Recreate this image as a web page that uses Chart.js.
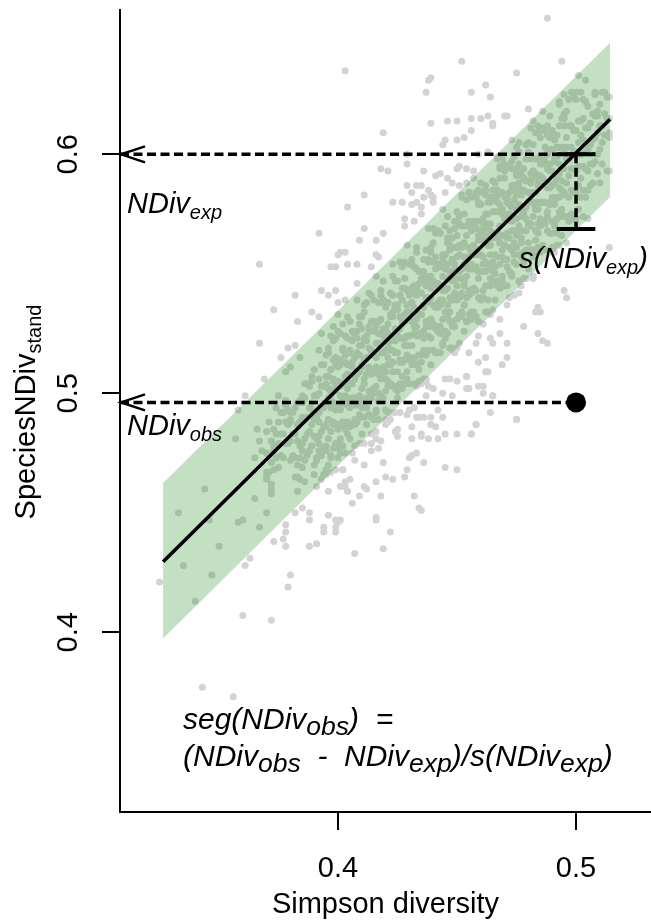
<!DOCTYPE html>
<html>
<head>
<meta charset="utf-8">
<script src="https://cdn.jsdelivr.net/npm/chart.js@4.4.1/dist/chart.umd.min.js"></script>
<style>
  html, body { margin: 0; padding: 0; background: #fff; }
  canvas { display: block; }
</style>
</head>
<body>
<canvas id="segChart" width="651" height="922"></canvas>
<script>
// axis setup
const xRange = [0.3084, 0.5315];
const yRange = [0.3248, 0.6604];
const xTicks = [0.4, 0.5];
const yTicks = [0.4, 0.5, 0.6];
const xTitle = 'Simpson diversity';

// regression line and its +/- 1 sd band (Simpson -> NDiv)
const fitX = [0.3265, 0.5143];
const fitY = [0.4295, 0.6147];
const bandLow = [0.3974, 0.5822];
const bandHigh = [0.4625, 0.6467];

// focal community
const focalSimpson = 0.5;
const ndivExp = 0.6;
const ndivObs = 0.4962;
const sdExp = 0.0312;
const capHalf = 0.0081;

// simulated communities, dense core read column by column: [simpson, ndiv, ndiv, ...]
const coreColumns = [
  [.370,.464,.475,.484],[.371,.467,.474,.488],[.372,.462,.471,.480],[.373,.468,.476,.485],
  [.374,.473,.483,.494],[.375,.469,.479,.488],[.376,.474,.483,.492],[.377,.473,.483,.492],
  [.378,.479,.488,.497],[.379,.479,.487,.493],[.380,.472,.480,.489],[.381,.474,.483,.492],
  [.382,.465,.473,.483,.494],[.383,.470,.480,.487,.496],[.384,.464,.478,.488,.497],
  [.385,.469,.479,.490,.499],[.386,.472,.481,.489,.498],[.387,.474,.483,.490,.504],
  [.388,.476,.484,.494,.503],[.389,.478,.487,.496,.505],
  [.390,.470,.482,.489,.499,.510],[.391,.461,.473,.481,.490,.499],
  [.392,.474,.482,.492,.500,.506,.518],[.393,.474,.484,.494,.503,.512,.525],
  [.394,.466,.477,.486,.494,.503,.512],[.395,.466,.478,.486,.496,.507,.516],
  [.396,.470,.481,.489,.498,.507,.519],[.397,.473,.484,.494,.501,.510,.524],
  [.398,.477,.487,.496,.505,.514,.528],[.399,.468,.479,.493,.503,.512,.523],
  [.400,.477,.487,.495,.505,.514,.533],[.401,.475,.486,.495,.503,.512,.525],
  [.402,.478,.488,.497,.504,.518,.529],[.403,.475,.486,.496,.507,.516,.524],
  [.404,.483,.495,.502,.512,.523,.532],[.405,.486,.494,.504,.512,.518,.530],
  [.406,.475,.487,.495,.504,.513,.522],[.407,.478,.489,.498,.506,.515,.524],
  [.408,.488,.498,.508,.517,.526,.539],[.409,.479,.491,.499,.509,.520,.529],
  [.410,.483,.494,.502,.511,.520,.532],[.411,.479,.490,.504,.514,.523,.534],
  [.412,.487,.498,.508,.515,.524,.538],[.413,.491,.501,.510,.519,.528,.542],
  [.414,.490,.500,.509,.516,.530,.541],[.415,.489,.500,.509,.517,.526,.539],
  [.416,.493,.503,.511,.521,.530,.549],[.417,.489,.500,.510,.521,.530,.538],
  [.418,.499,.507,.517,.525,.531,.543],[.419,.498,.510,.517,.527,.538,.547],
  [.420,.489,.501,.509,.518,.527,.536],[.421,.492,.503,.512,.520,.529,.538],
  [.422,.492,.504,.512,.522,.533,.542],[.423,.503,.513,.523,.532,.541,.554],
  [.424,.492,.503,.517,.527,.536,.547],[.425,.498,.509,.517,.526,.535,.547],
  [.426,.504,.514,.523,.532,.541,.555],[.427,.502,.513,.523,.530,.539,.553],
  [.428,.504,.514,.523,.530,.544,.555],[.429,.506,.516,.524,.534,.543,.562],
  [.430,.504,.515,.524,.532,.541,.554],[.431,.512,.520,.530,.538,.544,.556],
  [.432,.504,.515,.525,.536,.545,.553],[.433,.512,.524,.531,.541,.552,.561],
  [.434,.505,.516,.525,.533,.542,.551],[.435,.504,.516,.524,.533,.542,.551],
  [.436,.506,.518,.526,.536,.547,.556],[.437,.505,.516,.530,.540,.549,.560],
  [.438,.518,.528,.538,.547,.556,.569],[.439,.512,.523,.531,.540,.549,.561],
  [.440,.518,.528,.537,.546,.555,.569],[.441,.517,.527,.536,.543,.557,.568],
  [.442,.517,.528,.538,.545,.554,.568],[.443,.517,.528,.537,.545,.554,.567],
  [.444,.521,.531,.539,.549,.558,.577],[.445,.526,.534,.544,.552,.558,.570],
  [.446,.525,.537,.544,.554,.565,.574],[.447,.519,.530,.540,.551,.560,.568],
  [.448,.519,.530,.539,.547,.556,.565],[.449,.517,.528,.542,.552,.561,.572],
  [.450,.519,.531,.539,.548,.557,.566],[.451,.521,.533,.541,.551,.562,.571],
  [.452,.532,.542,.552,.561,.570,.583],[.453,.526,.537,.545,.554,.563,.575],
  [.454,.530,.540,.549,.556,.570,.581],[.455,.533,.543,.552,.561,.570,.584],
  [.456,.531,.542,.552,.559,.568,.582],[.457,.534,.544,.552,.562,.571,.590],
  [.458,.532,.543,.552,.560,.569,.582],[.459,.540,.548,.558,.566,.572,.584],
  [.460,.539,.551,.558,.568,.579,.588],[.461,.529,.540,.554,.564,.573,.584],
  [.462,.534,.545,.555,.566,.575,.583],[.463,.534,.545,.554,.562,.571,.580],
  [.464,.533,.545,.553,.562,.571,.580],[.465,.535,.547,.555,.565,.576,.585],
  [.466,.539,.550,.558,.567,.576,.588],[.467,.547,.557,.567,.576,.585,.598],
  [.468,.544,.554,.563,.570,.584,.595],[.469,.547,.557,.566,.575,.584,.598],
  [.470,.545,.556,.566,.573,.582,.596],[.471,.545,.556,.565,.573,.582,.595],
  [.472,.540,.551,.565,.575,.584,.595],[.473,.550,.560,.568,.578,.587,.606],
  [.474,.555,.563,.573,.581,.587,.599],[.475,.554,.566,.573,.583,.594,.603],
  [.476,.547,.558,.568,.579,.588,.596],[.477,.545,.557,.565,.574,.583,.592],
  [.478,.548,.559,.568,.576,.585,.594],[.479,.548,.560,.568,.578,.589,.598],
  [.480,.552,.563,.571,.580,.589,.601],[.481,.560,.570,.580,.589,.598,.611],
  [.482,.549,.560,.574,.584,.593,.604],[.483,.558,.568,.577,.584,.598,.609],
  [.484,.561,.571,.580,.589,.598,.612],[.485,.559,.570,.580,.587,.596,.610],
  [.486,.562,.572,.580,.590,.599,.618],[.487,.560,.571,.580,.588,.597,.610],
  [.488,.568,.576,.586,.594,.600,.612],[.489,.567,.579,.586,.596,.607,.616],
  [.490,.561,.572,.582,.593,.602,.610],[.491,.559,.571,.579,.588,.597,.606],
  [.492,.562,.573,.582,.590,.599,.608],[.493,.562,.574,.582,.592,.603,.612],
  [.494,.566,.577,.585,.594,.603,.615],[.495,.574,.584,.594,.603,.612,.625],
  [.496,.563,.574,.588,.598,.607,.618],[.497,.572,.582,.591,.598,.612,.623],
  [.498,.575,.585,.594,.603,.612,.626],[.499,.573,.584,.594,.601,.610,.624],
  [.500,.573,.584,.593,.601,.610,.623],[.501,.577,.587,.595,.605,.614,.633],
  [.502,.582,.590,.600,.608,.614,.626],[.503,.574,.585,.595,.606,.615,.623],
  [.504,.582,.594,.601,.611,.622,.631],[.505,.573,.585,.593,.602,.611,.620],
  [.506,.587,.596,.604,.613],[.507,.588,.596,.606,.617],[.508,.597,.607,.616,.625],
  [.509,.592,.600,.609,.618],[.510,.588,.602,.612,.621],[.511,.596,.605,.612,.626],
  [.512,.608,.617,.626],[.513,.608,.615,.624],[.514,.607,.615,.624]
];

// second pass over the packed middle of the cloud
const coreExtra = [
  [.395,.476,.487,.504],[.396,.489,.502,.517],[.397,.474,.497,.510],[.398,.488,.506,.522],
  [.399,.487,.501,.515],[.400,.495,.511,.526],[.401,.479,.499,.514],[.402,.488,.504,.519],
  [.403,.485,.499,.513],[.404,.488,.498,.508],[.405,.481,.504,.517],[.406,.498,.511,.526],
  [.407,.487,.498,.515],[.408,.495,.509,.523],[.409,.498,.516,.532],[.410,.496,.512,.527],
  [.411,.506,.522,.537],[.412,.494,.508,.522],[.413,.491,.511,.526],[.414,.498,.508,.518],
  [.415,.502,.516,.530],[.416,.492,.515,.528],[.417,.497,.508,.525],[.418,.507,.525,.541],
  [.419,.511,.524,.539],[.420,.506,.522,.537],[.421,.505,.515,.525],[.422,.504,.518,.532],
  [.423,.518,.534,.549],[.424,.502,.522,.537],[.425,.501,.524,.537],[.426,.513,.527,.541],
  [.427,.513,.529,.544],[.428,.520,.533,.548],[.429,.509,.520,.537],[.430,.514,.524,.534],
  [.431,.520,.538,.554],[.432,.514,.528,.542],[.433,.528,.544,.559],[.434,.510,.533,.546],
  [.435,.513,.533,.548],[.436,.523,.537,.551],[.437,.517,.528,.545],[.438,.524,.540,.555],
  [.439,.531,.544,.559],[.440,.529,.547,.563],[.441,.536,.552,.567],[.442,.526,.536,.546],
  [.443,.525,.539,.553],[.444,.520,.543,.556],[.445,.523,.543,.558],[.446,.532,.548,.563],
  [.447,.534,.548,.562],[.448,.528,.539,.556],[.449,.541,.554,.569],[.450,.545,.561,.576],
  [.451,.540,.558,.574],[.452,.534,.548,.562],[.453,.537,.547,.557],[.454,.530,.553,.566],
  [.455,.541,.557,.572],[.456,.534,.554,.569],[.457,.544,.558,.572],[.458,.553,.569,.584],
  [.459,.551,.564,.579],[.460,.540,.551,.568],[.461,.543,.557,.571],[.462,.551,.569,.585],
  [.463,.539,.562,.575],[.464,.548,.558,.568],[.465,.551,.567,.582],[.466,.553,.567,.581],
  [.467,.545,.565,.580],[.468,.563,.579,.594],[.469,.549,.560,.577],[.470,.562,.575,.590],
  [.471,.553,.567,.581],[.472,.561,.579,.595],[.473,.549,.572,.585],[.474,.558,.568,.578],
  [.475,.561,.577,.592],[.476,.570,.586,.601],[.477,.563,.577,.591],[.478,.555,.575,.590],
  [.479,.573,.589,.604],[.480,.571,.584,.599],[.481,.560,.571,.588],[.482,.557,.580,.593],
  [.483,.564,.578,.592],[.484,.567,.577,.587],[.485,.573,.591,.607],[.486,.580,.596,.611],
  [.487,.572,.588,.603],[.488,.574,.588,.602],[.489,.580,.593,.608],[.490,.567,.587,.602],
  [.491,.570,.581,.598],[.492,.567,.590,.603],[.493,.576,.586,.596],[.494,.575,.589,.603],
  [.495,.583,.601,.617]
];

// scattered communities above / left of the band: [simpson, ndiv]
const aboveBand = [
  [.488,.657],[.403,.635],[.452,.639],[.494,.639],[.475,.634],[.438,.631],[.439,.632],[.437,.626],
  [.456,.626],[.462,.629],[.464,.624],[.500,.626],[.508,.626],
  [.439,.613],[.446,.614],[.450,.614],[.456,.615],[.460,.615],[.463,.616],[.470,.616],[.471,.616],
  [.465,.613],[.465,.612],[.480,.619],[.482,.614],[.493,.621],[.495,.615],[.509,.616],[.514,.609],
  [.488,.608],[.456,.610],[.419,.609],
  [.450,.606],[.453,.607],[.444,.604],[.445,.606],[.476,.605],[.480,.605],[.492,.603],[.496,.603],
  [.514,.593],[.486,.598],[.459,.600],[.463,.601],[.467,.599],[.429,.600],[.429,.596],[.451,.595],
  [.450,.594],[.454,.594],[.457,.593],[.421,.593],[.418,.594],[.436,.593],[.443,.592],[.441,.591],
  [.446,.590],[.448,.588],[.429,.587],[.433,.587],[.435,.587],[.451,.587],[.454,.588],
  [.411,.583],[.404,.578],[.423,.580],[.427,.580],[.431,.584],[.433,.580],[.436,.582],[.438,.585],
  [.439,.583],[.440,.580],[.445,.584],[.459,.585],[.462,.587],[.465,.589],[.468,.590],[.470,.593],
  [.473,.594],[.473,.597],[.475,.591],[.478,.590],[.481,.592],[.483,.591],[.489,.579],[.459,.580],
  [.464,.582],[.467,.583],[.469,.584],[.471,.580],[.475,.585],[.473,.578],[.452,.582],[.455,.584],
  [.431,.579],[.435,.578],[.440,.582],[.428,.573],[.432,.572],[.428,.570],[.435,.575],
  [.392,.567],[.411,.569],[.419,.567],[.409,.564],[.416,.564],[.401,.559],[.403,.559],[.367,.554],
  [.373,.535],[.367,.521],[.369,.506],[.361,.499],[.358,.493],
  [.382,.541],[.383,.530],[.389,.534],[.392,.532],[.393,.543],[.396,.541],[.399,.543],[.400,.538],
  [.403,.539],[.400,.558],[.397,.553],[.399,.553],[.404,.554],[.408,.554],[.408,.546],[.416,.558],
  [.417,.557],[.414,.553],
  [.376,.515],[.379,.519],[.382,.520],[.380,.511],[.384,.515]
];

// scattered communities below / right of the band
const belowBand = [
  [.495,.543],[.496,.540],[.484,.536],[.485,.534],[.483,.534],[.478,.528],[.484,.525],[.486,.522],
  [.488,.521],[.468,.525],[.464,.523],[.465,.521],[.471,.521],[.474,.541],[.471,.537],[.482,.548],
  [.476,.542],[.468,.531],[.471,.515],[.469,.512],[.462,.515],[.459,.513],[.463,.509],[.455,.517],
  [.458,.521],[.454,.507],[.450,.505],[.459,.524],[.459,.530],[.514,.561],[.493,.622],[.513,.593],
  [.454,.502],[.461,.503],[.461,.500],[.465,.499],[.464,.492],[.458,.487],[.456,.483],[.475,.489],
  [.444,.500],[.445,.506],[.438,.503],[.440,.502],[.437,.499],[.432,.494],[.429,.491],[.433,.490],
  [.436,.490],[.439,.487],[.444,.490],[.431,.486],[.426,.492],[.422,.489],[.420,.487],[.416,.484],
  [.424,.484],[.425,.482],[.435,.482],[.438,.481],[.442,.481],[.445,.483],[.414,.479],[.418,.480],
  [.417,.477],[.414,.476],[.430,.473],[.433,.475],[.431,.474],[.436,.471],[.419,.471],[.445,.469],
  [.450,.468],[.407,.472],[.411,.470],[.402,.468],[.429,.468],[.428,.465],[.420,.465],[.423,.464],
  [.416,.463],[.403,.463],[.405,.464],[.401,.461],[.404,.459],[.411,.461],[.412,.460],[.409,.457],
  [.418,.457],[.432,.457],[.406,.454],[.434,.452],[.435,.451],[.396,.449],[.400,.446],[.399,.444],
  [.399,.442],[.416,.447],[.416,.448],[.422,.442],[.419,.435],[.407,.433]
];

// lower-left tail of the cloud
const lowerLeft = [
  [.333,.450],[.335,.428],[.340,.413],[.344,.460],[.346,.447],[.347,.424],[.350,.436],[.325,.421],
  [.343,.377],[.356,.373],[.360,.407],[.372,.405],
  [.358,.446],[.360,.447],[.365,.456],[.367,.444],[.370,.450],[.361,.428],[.363,.431],[.380,.424],
  [.379,.419],[.373,.438],[.377,.439],[.378,.436],[.378,.442],[.378,.445],[.382,.450],[.385,.452],
  [.388,.450],[.388,.447],[.388,.436],[.391,.437],[.394,.444],[.394,.442],[.401,.447],[.399,.447],
  [.365,.473],[.368,.476],[.370,.467],[.370,.465],[.372,.460],[.372,.458],[.383,.465],[.383,.459],
  [.386,.463],[.390,.466],[.391,.472],[.384,.473],[.385,.476],[.389,.478],[.392,.479],[.392,.476],
  [.395,.468],[.393,.464],[.396,.459],[.397,.467],[.400,.473],[.401,.478],[.402,.468],[.403,.475],
  [.403,.461],
  [.357,.481],[.366,.485],[.367,.480],[.373,.478],[.375,.499],[.378,.495],[.378,.509],[.380,.492],
  [.380,.488],[.384,.488],[.385,.496],[.386,.504],[.389,.507],[.389,.493],[.392,.488],[.397,.499],
  [.400,.485],[.401,.481],[.401,.493],[.404,.508],[.409,.490],[.411,.504],[.414,.483],[.416,.481],
  [.418,.506],[.420,.493],[.421,.488],[.423,.509],[.425,.485],[.427,.507],[.430,.493],[.431,.481],
  [.433,.503],[.434,.490],[.435,.483],[.437,.506],[.439,.490],[.441,.486],[.442,.493],[.447,.506],
  [.448,.499],[.450,.483],[.454,.507],[.455,.502],[.456,.483],[.458,.487],[.459,.503],[.462,.509],
  [.465,.499],[.475,.489]
];

const FONT = '"Liberation Sans", Arial, Helvetica, sans-serif';

const communities = [];
[...coreColumns, ...coreExtra].forEach(col => col.slice(1).forEach(y => communities.push({ x: col[0], y: y })));
[...aboveBand, ...belowBand, ...lowerLeft].forEach(([x, y]) => communities.push({ x, y }));

const seg = (x0, y0, x1, y1) => [{ x: x0, y: y0 }, { x: x1, y: y1 }];

// draw runs of text where some pieces are subscripts
function drawRuns(ctx, runs, x, y, opt) {
  runs.forEach(([txt, isSub]) => {
    ctx.font = (opt.italic ? 'italic ' : '') + (isSub ? opt.sub : opt.size) + 'px ' + FONT;
    ctx.fillText(txt, x, isSub ? y + opt.drop : y);
    x += ctx.measureText(txt).width;
  });
  return x;
}
function runsWidth(ctx, runs, opt) {
  let w = 0;
  runs.forEach(([txt, isSub]) => {
    ctx.font = (opt.italic ? 'italic ' : '') + (isSub ? opt.sub : opt.size) + 'px ' + FONT;
    w += ctx.measureText(txt).width;
  });
  return w;
}

const labelsPlugin = {
  id: 'labels',
  afterDraw(chart) {
    const ctx = chart.ctx;
    const xs = chart.scales.x, ys = chart.scales.y;
    ctx.save();
    ctx.fillStyle = '#000';
    ctx.strokeStyle = '#000';

    // arrow heads at the y axis
    [ndivExp, ndivObs].forEach(v => {
      const tx = xs.getPixelForValue(xRange[0]) + 1;
      const ty = ys.getPixelForValue(v);
      ctx.lineWidth = 2.5;
      ctx.beginPath();
      ctx.moveTo(tx + 24, ty - 8);
      ctx.lineTo(tx, ty);
      ctx.lineTo(tx + 24, ty + 8);
      ctx.stroke();
    });

    // tick labels
    ctx.textBaseline = 'alphabetic';
    ctx.textAlign = 'center';
    ctx.font = '29px ' + FONT;
    xTicks.forEach(v => ctx.fillText(v.toFixed(1), xs.getPixelForValue(v), 877));
    yTicks.forEach(v => {
      ctx.save();
      ctx.translate(77, ys.getPixelForValue(v));
      ctx.rotate(-Math.PI / 2);
      ctx.fillText(v.toFixed(1), 0, 0);
      ctx.restore();
    });

    // axis titles
    ctx.fillText(xTitle, (xs.left + xs.right) / 2, 913);
    const yt = [['SpeciesNDiv', false], ['stand', true]];
    const ytOpt = { size: 29, sub: 20, drop: 6, italic: false };
    const ytW = runsWidth(ctx, yt, ytOpt);
    ctx.save();
    ctx.translate(35, 412);
    ctx.rotate(-Math.PI / 2);
    ctx.textAlign = 'left';
    drawRuns(ctx, yt, -ytW / 2, 0, ytOpt);
    ctx.restore();

    // annotations
    ctx.textAlign = 'left';
    const lab = { size: 29, sub: 20, drop: 6, italic: true };
    drawRuns(ctx, [['NDiv', false], ['exp', true]], 127, 213, lab);
    drawRuns(ctx, [['NDiv', false], ['obs', true]], 127, 435, lab);
    drawRuns(ctx, [['s(NDiv', false], ['exp', true], [')', false]], 519, 268, lab);

    const eq = { size: 30, sub: 26.5, drop: 6, italic: true };
    drawRuns(ctx, [['seg(NDiv', false], ['obs', true], [')  =', false]], 183, 729, eq);
    drawRuns(ctx, [['(NDiv', false], ['obs', true], ['  -  NDiv', false], ['exp', true],
                   [')/s(NDiv', false], ['exp', true], [')', false]], 183, 766, eq);
    ctx.restore();
  }
};

const dashed = { borderColor: '#000', borderWidth: 3.5, borderDash: [9, 4.5], pointRadius: 0, fill: false };

new Chart(document.getElementById('segChart'), {
  type: 'scatter',
  data: {
    datasets: [
      { type: 'scatter', data: communities, pointRadius: 3.5, pointBorderWidth: 0,
        backgroundColor: '#d3d3d3', borderColor: '#d3d3d3', order: 10 },
      { type: 'line', data: seg(fitX[0], bandLow[0], fitX[1], bandLow[1]), borderWidth: 0,
        pointRadius: 0, fill: false, order: 9 },
      { type: 'line', data: seg(fitX[0], bandHigh[0], fitX[1], bandHigh[1]), borderWidth: 0,
        pointRadius: 0, fill: '-1', backgroundColor: 'rgba(34,139,34,0.27)', order: 9 },
      { type: 'line', data: seg(fitX[0], fitY[0], fitX[1], fitY[1]), borderColor: '#000',
        borderWidth: 3.5, pointRadius: 0, fill: false, order: 8 },
      { type: 'line', data: seg(xRange[0], ndivExp, focalSimpson + capHalf, ndivExp), ...dashed, order: 7 },
      { type: 'line', data: seg(xRange[0], ndivObs, focalSimpson, ndivObs), ...dashed, order: 7 },
      { type: 'line', data: seg(focalSimpson, ndivExp, focalSimpson, ndivExp - sdExp), ...dashed, order: 7 },
      { type: 'line', data: seg(focalSimpson - capHalf, ndivExp, focalSimpson + capHalf, ndivExp),
        borderColor: '#000', borderWidth: 4, pointRadius: 0, fill: false, order: 6 },
      { type: 'line', data: seg(focalSimpson - capHalf, ndivExp - sdExp, focalSimpson + capHalf, ndivExp - sdExp),
        borderColor: '#000', borderWidth: 4, pointRadius: 0, fill: false, order: 6 },
      { type: 'scatter', data: [{ x: focalSimpson, y: ndivObs }], pointRadius: 10, pointBorderWidth: 0,
        backgroundColor: '#000', order: 1 }
    ]
  },
  options: {
    responsive: false,
    animation: false,
    devicePixelRatio: 1,
    events: [],
    layout: { autoPadding: false, padding: { top: 10, right: 0, bottom: 0, left: 0 } },
    plugins: { legend: { display: false }, tooltip: { enabled: false } },
    scales: {
      x: {
        type: 'linear', position: 'bottom', min: xRange[0], max: xRange[1],
        afterBuildTicks: s => { s.ticks = xTicks.map(v => ({ value: v })); },
        afterFit: s => { s.height = 110; },
        grid: { drawOnChartArea: false, drawTicks: true, tickLength: 18, color: '#000', lineWidth: 2 },
        border: { display: true, color: '#000', width: 2 },
        ticks: { display: false }
      },
      y: {
        type: 'linear', position: 'left', min: yRange[0], max: yRange[1],
        afterBuildTicks: s => { s.ticks = yTicks.map(v => ({ value: v })); },
        afterFit: s => { s.width = 120; },
        grid: { drawOnChartArea: false, drawTicks: true, tickLength: 18, color: '#000', lineWidth: 2 },
        border: { display: true, color: '#000', width: 2 },
        ticks: { display: false }
      }
    }
  },
  plugins: [labelsPlugin]
});
</script>
</body>
</html>
